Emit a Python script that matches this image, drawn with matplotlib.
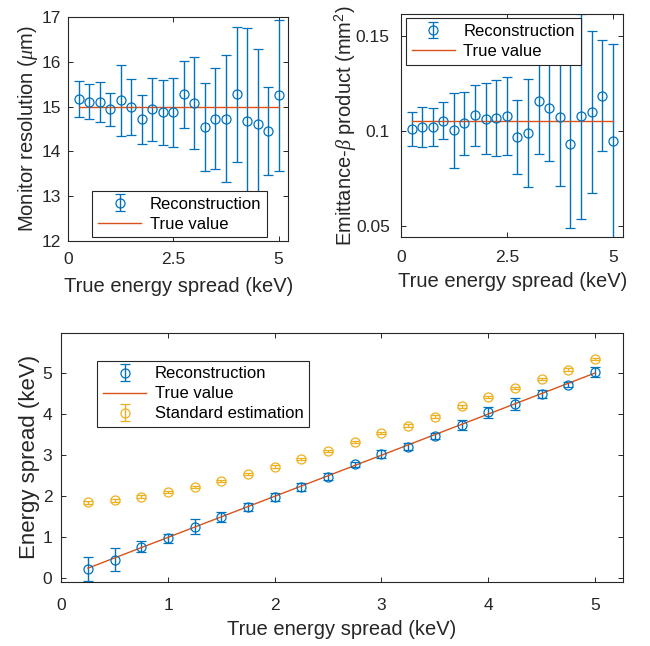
import matplotlib; matplotlib.use("Agg")
import matplotlib.pyplot as plt
import numpy as np

plt.rcParams["font.family"] = ["Liberation Sans", "DejaVu Sans"]
plt.rcParams["mathtext.fontset"] = "custom"
plt.rcParams["mathtext.it"] = "Liberation Serif:italic"
plt.rcParams["mathtext.rm"] = "Liberation Sans"

BLUE, ORANGE, YELLOW = "#0072BD", "#D95319", "#EDB120"
INK = "#262626"

# true energy spread (keV), shared by all panels
spread = [0.25, 0.5, 0.75, 1.0, 1.25, 1.5, 1.75, 2.0, 2.25, 2.5,
          2.75, 3.0, 3.25, 3.5, 3.75, 4.0, 4.25, 4.5, 4.75, 5.0]

# monitor resolution (um)
res_true = 15.0
res_rec = [15.17, 15.11, 15.11, 14.94, 15.14, 14.99, 14.72, 14.94, 14.87, 14.87,
           15.28, 15.08, 14.55, 14.73, 14.73, 15.28, 14.68, 14.62, 14.45, 15.25]
res_err = [0.40, 0.39, 0.45, 0.37, 0.80, 0.63, 0.55, 0.71, 0.73, 0.77,
           0.75, 1.03, 0.98, 1.13, 1.42, 1.51, 2.08, 1.66, 0.99, 1.69]

# emittance-beta product (mm^2)
emb_true = 0.105
emb_rec = [0.1009, 0.1021, 0.1021, 0.1054, 0.1004, 0.1040, 0.1082, 0.1065, 0.1068, 0.1077,
           0.0968, 0.0989, 0.1156, 0.1123, 0.1072, 0.0933, 0.1077, 0.1100, 0.1186, 0.0946]
emb_err = [0.0090, 0.0105, 0.0100, 0.0097, 0.0198, 0.0166, 0.0160, 0.0185, 0.0202, 0.0205,
           0.0196, 0.0285, 0.0275, 0.0280, 0.0360, 0.0445, 0.0540, 0.0425, 0.0292, 0.0510]

# energy spread (keV)
es_rec = [0.23, 0.46, 0.77, 0.98, 1.26, 1.50, 1.73, 1.98, 2.22, 2.48,
          2.78, 3.03, 3.21, 3.46, 3.74, 4.04, 4.24, 4.48, 4.71, 5.02]
es_rec_err = [0.30, 0.29, 0.13, 0.11, 0.19, 0.12, 0.10, 0.09, 0.10, 0.08,
              0.06, 0.10, 0.09, 0.07, 0.12, 0.13, 0.14, 0.10, 0.06, 0.12]
es_std = [1.85, 1.90, 1.99, 2.10, 2.22, 2.37, 2.54, 2.72, 2.91, 3.10,
          3.32, 3.54, 3.72, 3.94, 4.19, 4.41, 4.63, 4.85, 5.08, 5.34]
es_std_err = [0.03, 0.03, 0.03, 0.03, 0.03, 0.03, 0.03, 0.03, 0.03, 0.03,
              0.03, 0.03, 0.03, 0.03, 0.03, 0.03, 0.03, 0.03, 0.03, 0.03]

TICK_FS, LAB_FS, LEG_FS = 12.5, 14.5, 12
eb_kw = dict(fmt="o", mfc="none", ms=6.5, mew=0.9, elinewidth=1.0, capsize=3.5, capthick=1.0)


def style(ax, xpad, ypad):
    ax.tick_params(direction="in", top=True, right=True, length=3.5, width=0.7,
                   labelsize=TICK_FS, colors=INK)
    ax.tick_params(axis="x", pad=xpad)
    ax.tick_params(axis="y", pad=ypad)
    for s in ax.spines.values():
        s.set_linewidth(0.8)
        s.set_color(INK)


def legend(ax, handles, loc, anchor):
    leg = ax.legend(handles=handles, loc=loc, bbox_to_anchor=anchor, borderaxespad=0,
                    fontsize=LEG_FS, fancybox=False, framealpha=1, edgecolor=INK,
                    handlelength=2.6, handletextpad=0.5, borderpad=0.35, labelspacing=0.3)
    leg.get_frame().set_linewidth(0.8)


fig = plt.figure(figsize=(6.5, 6.46), dpi=100)
ax1 = fig.add_axes([0.105, 0.6274, 0.3385, 0.3458])
ax2 = fig.add_axes([0.6169, 0.6327, 0.342, 0.3457])
ax3 = fig.add_axes([0.0943, 0.0995, 0.8637, 0.3854])

# monitor resolution
rec = ax1.errorbar(spread, res_rec, yerr=res_err, color=BLUE, label="Reconstruction", **eb_kw)
tru, = ax1.plot([spread[0], spread[-1]], [res_true, res_true], color=ORANGE, lw=1.0, label="True value")
ax1.set_xlim(0, 5.23)
ax1.set_ylim(12, 17)
ax1.set_xticks([0, 2.5, 5], ["0", "2.5", "5"])
ax1.set_yticks([12, 13, 14, 15, 16, 17])
ax1.set_xlabel("True energy spread (keV)", fontsize=LAB_FS, color=INK, labelpad=7)
ax1.set_ylabel(r"Monitor resolution ($\mu$m)", fontsize=LAB_FS, color=INK, labelpad=1)
style(ax1, 8, 5)
legend(ax1, [rec, tru], "lower left", (0.109, 0.015))

# emittance-beta product
rec = ax2.errorbar(spread, emb_rec, yerr=emb_err, color=BLUE, label="Reconstruction", **eb_kw)
tru, = ax2.plot([spread[0], spread[-1]], [emb_true, emb_true], color=ORANGE, lw=1.0, label="True value")
ax2.set_xlim(0, 5.25)
ax2.set_ylim(0.044, 0.1616)
ax2.set_xticks([0, 2.5, 5], ["0", "2.5", "5"])
ax2.set_yticks([0.05, 0.1, 0.15], ["0.05", "0.1", "0.15"])
ax2.set_xlabel("True energy spread (keV)", fontsize=LAB_FS, color=INK, labelpad=5)
ax2.set_ylabel(r"Emittance-$\beta$ product (mm$^2$)", fontsize=LAB_FS, color=INK, labelpad=-2)
style(ax2, 9, 8)
legend(ax2, [rec, tru], "upper left", (0.022, 0.982))

# energy spread
rec = ax3.errorbar(spread, es_rec, yerr=es_rec_err, color=BLUE, label="Reconstruction", **eb_kw)
tru, = ax3.plot([spread[0], spread[-1]], [spread[0], spread[-1]], color=ORANGE, lw=1.0, label="True value")
std = ax3.errorbar(spread, es_std, yerr=es_std_err, color=YELLOW, label="Standard estimation", **eb_kw)
ax3.set_xlim(0, 5.26)
ax3.set_ylim(-0.08, 5.98)
ax3.set_xticks([0, 1, 2, 3, 4, 5])
ax3.set_yticks([0, 1, 2, 3, 4, 5])
ax3.set_xlabel("True energy spread (keV)", fontsize=LAB_FS, color=INK, labelpad=5)
ax3.set_ylabel("Energy spread (keV)", fontsize=16, color=INK, labelpad=2)
style(ax3, 11.5, 6.5)
legend(ax3, [rec, tru, std], "upper left", (0.064, 0.888))

fig.savefig("out.png", dpi=100)
